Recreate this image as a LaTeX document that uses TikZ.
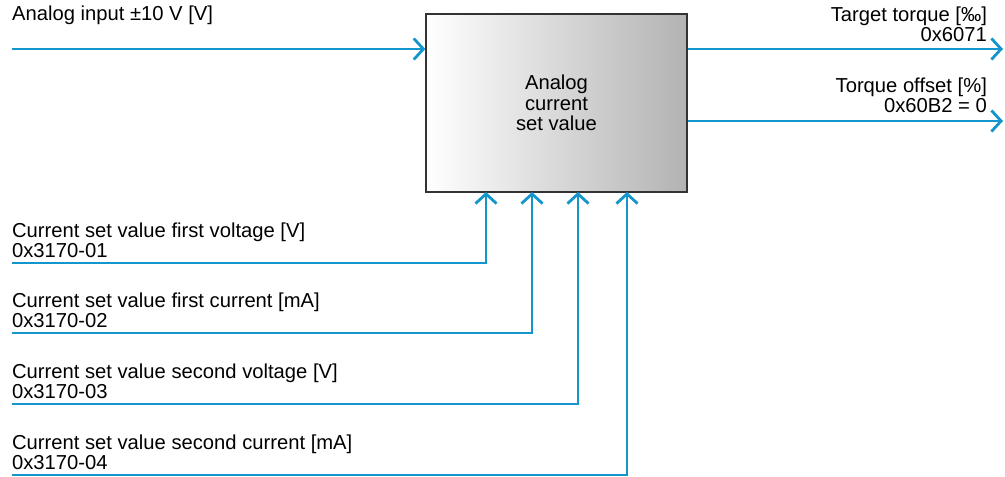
\documentclass[tikz,border=0pt]{standalone}
\usepackage{fontspec}
\setmainfont{Liberation Sans}
\usetikzlibrary{arrows.meta}

\tikzset{
  sig/.style={line width=1.7pt, sigblue, -{Straight Barb[length=5.5pt,width=12pt,line width=1.6pt]}},
  lbl/.style={font=\fontsize{11.5}{11.6}\selectfont, inner sep=1pt},
  fblock/.style={draw=black!80, line width=0.8pt, left color=white, right color=black!30,
    minimum width=5.22cm, minimum height=3.56cm, align=center, font=\fontsize{11.5}{11.6}\selectfont}
}

\begin{document}
\begin{tikzpicture}[x=0.02cm, y=-0.02cm, line cap=butt, line join=miter]
  \definecolor{sigblue}{RGB}{20,150,205}
  \useasboundingbox (0,0) rectangle (1005,477);

  % function block
  \node[fblock] (acsv) at (556.5,103) {Analog\\current\\set value};

  % analog input
  \coordinate (ain) at (12,49);
  \node[lbl, anchor=south west] (ainl) at (10,27) {Analog input ±10 V [V]};
  \draw[sig] (ain) -- (ain -| acsv.west);

  % outputs
  \coordinate (tq) at (1003,49);
  \coordinate (toff) at (1003,121);
  \node[lbl, anchor=south east, align=right] (tql) at (989,44) {Target torque [‰]\\0x6071};
  \node[lbl, anchor=south east, align=right] (toffl) at (989,115) {Torque offset [\%]\\0x60B2 = 0};
  \draw[sig] (acsv.east |- tq) -- (tq);
  \draw[sig] (acsv.east |- toff) -- (toff);

  % parameters
  \foreach \n/\x/\y/\txt in {1/486/263/first voltage [V],
                             2/532/333/first current [mA],
                             3/578/404/second voltage [V],
                             4/627/475/second current [mA]} {
    \coordinate (c\n) at (12,\y);
    \coordinate (t\n) at (\x,192);
    \node[lbl, anchor=south west, align=left] (cl\n) at (10,\y-3) {Current set value \txt\\0x3170-0\n};
    \draw[sig] (c\n) -| (t\n);
  }
\end{tikzpicture}
\end{document}
